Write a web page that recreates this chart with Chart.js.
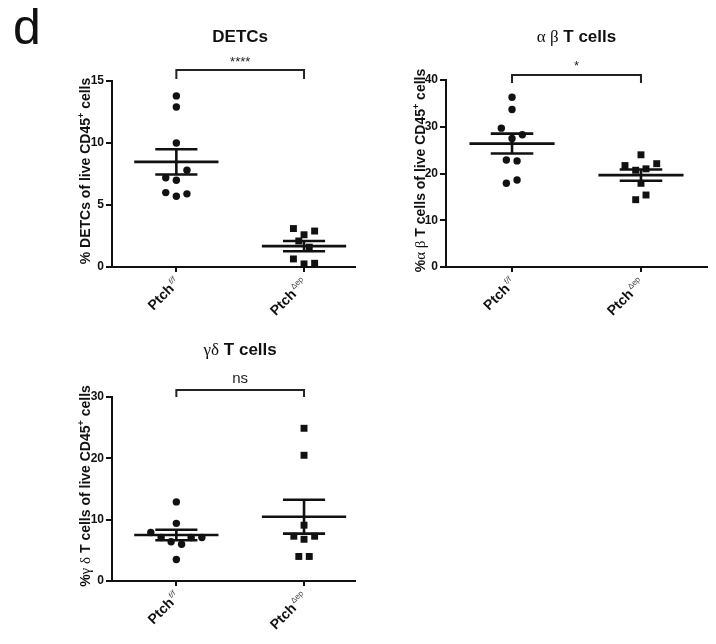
<!DOCTYPE html>
<html>
<head>
<meta charset="utf-8">
<script src="https://cdn.jsdelivr.net/npm/chart.js@4.4.1/dist/chart.umd.min.js"></script>
<style>
  body { margin: 0; background: #fff; }
  #wrap { position: relative; width: 716px; height: 644px; overflow: hidden; background: #fff; }
  canvas { position: absolute; }
  #tag { position: absolute; left: 13px; top: 2px; font: 50px/50px "Liberation Sans", Arial, sans-serif; color: #111; }
</style>
</head>
<body>
<div id="wrap">
  <div id="tag">d</div>
  <canvas id="c1" width="360" height="330" style="left:0;top:0"></canvas>
  <canvas id="c2" width="356" height="330" style="left:360px;top:0"></canvas>
  <canvas id="c3" width="360" height="314" style="left:0;top:330px"></canvas>
</div>
<script>
const SANS = '"Liberation Sans", Arial, sans-serif';
const SERIF = '"Liberation Serif", "Times New Roman", serif';

// groups on the x axis
const catBase = ['Ptch', 'Ptch'];
const catSup = ['f/f', 'Δep'];

// DETCs (% of live CD45+ cells)
const detcFf = [13.8, 12.9, 10.0, 7.8, 7.2, 7.0, 6.0, 5.9, 5.7];
const detcDep = [3.1, 2.9, 2.6, 2.1, 1.6, 0.65, 0.3, 0.25];
const detcTicks = [0, 5, 10, 15];

// alpha beta T cells
const abFf = [36.3, 33.7, 29.7, 28.3, 27.5, 22.9, 22.7, 18.6, 17.9];
const abDep = [24.0, 21.7, 22.1, 20.7, 21.0, 17.9, 15.4, 14.4];
const abTicks = [0, 10, 20, 30, 40];

// gamma delta T cells
const gdFf = [12.9, 9.4, 7.9, 7.1, 7.1, 7.1, 6.4, 6.0, 3.5];
const gdDep = [24.9, 20.5, 9.1, 7.3, 7.3, 6.8, 4.0, 4.0];
const gdTicks = [0, 10, 20, 30];

// horizontal scatter of the dots (in category widths)
const detcFfJit = [0, 0, 0, 0.083, -0.083, 0, -0.083, 0.083, 0];
const detcDepJit = [-0.083, 0.083, 0, -0.041, 0.041, -0.083, 0.083, 0];
const abFfJit = [0, 0, -0.083, 0.08, 0, -0.044, 0.039, 0.039, -0.044];
const abDepJit = [0, -0.124, 0.122, -0.041, 0.039, 0, 0.039, -0.041];
const gdFfJit = [0, 0, -0.2, -0.119, 0.116, 0.2, -0.041, 0.041, 0];
const gdDepJit = [0, 0, 0, -0.08, 0.083, 0, -0.041, 0.041];

Chart.defaults.font.family = SANS;
Chart.defaults.color = '#111';

function drawRuns(ctx, runs, x, y, align) {
    let w = 0;
    runs.forEach(r => { ctx.font = r.font; r.w = ctx.measureText(r.t).width; w += r.w; });
    let cx = align === 'center' ? x - w / 2 : align === 'right' ? x - w : x;
    ctx.textAlign = 'left';
    ctx.textBaseline = 'alphabetic';
    runs.forEach(r => {
        ctx.font = r.font;
        ctx.fillStyle = r.color || '#111';
        ctx.fillText(r.t, cx, y + (r.dy || 0));
        cx += r.w;
    });
}

const deco = {
    id: 'deco',
    afterDraw(chart, args, o) {
        const { ctx, chartArea: a, scales: { x } } = chart;
        const x1 = x.getPixelForValue(1), x2 = x.getPixelForValue(2);
        ctx.save();
        // panel title
        drawRuns(ctx, o.title, (x1 + x2) / 2, o.titleY, 'center');
        // y axis title
        ctx.save();
        ctx.translate(a.left + o.yTitleDx, (a.top + a.bottom) / 2 - 3);
        ctx.rotate(-Math.PI / 2);
        drawRuns(ctx, o.yTitle, 0, 0, 'center');
        ctx.restore();
        // rotated group labels
        catBase.forEach((b, i) => {
            const px = x.getPixelForValue(i + 1);
            ctx.save();
            ctx.translate(px + 4, a.bottom + 17);
            ctx.rotate(-Math.PI / 4);
            drawRuns(ctx, [
                { t: b, font: 'bold 14px ' + SANS },
                { t: ' ', font: '4px ' + SANS },
                { t: catSup[i], font: (i === 0 ? 'italic ' : '') + '8px ' + SANS, dy: -6, color: '#444' }
            ], 0, 0, 'right');
            ctx.restore();
        });
        // significance bracket
        const by = a.top + o.barDy, ey = a.top + o.barEnd;
        ctx.strokeStyle = '#222';
        ctx.lineWidth = 2;
        ctx.beginPath();
        ctx.moveTo(x1, ey); ctx.lineTo(x1, by); ctx.lineTo(x2, by); ctx.lineTo(x2, ey);
        ctx.stroke();
        ctx.font = o.sigFont;
        ctx.fillStyle = '#222';
        ctx.textAlign = 'center';
        ctx.textBaseline = 'alphabetic';
        ctx.fillText(o.sig, (x1 + x2) / 2, a.top + o.sigDy);
        ctx.restore();
    }
};

function dots(vals, jit, cat, style, r) {
    return {
        data: vals.map((v, i) => ({ x: cat + jit[i], y: v })),
        pointStyle: style, pointRadius: r, pointHoverRadius: r,
        backgroundColor: '#111', borderColor: '#111', borderWidth: 0
    };
}

function meanSem(vals, cat) {
    const n = vals.length;
    const m = vals.reduce((s, v) => s + v, 0) / n;
    const sd = Math.sqrt(vals.reduce((s, v) => s + (v - m) ** 2, 0) / (n - 1));
    const se = sd / Math.sqrt(n);
    const seg = (xa, ya, xb, yb) => ({
        showLine: true, data: [{ x: xa, y: ya }, { x: xb, y: yb }],
        borderColor: '#111', borderWidth: 2.6, pointRadius: 0, borderCapStyle: 'butt'
    });
    return [
        seg(cat - 0.33, m, cat + 0.33, m),
        seg(cat - 0.165, m + se, cat + 0.165, m + se),
        seg(cat - 0.165, m - se, cat + 0.165, m - se),
        seg(cat, m - se, cat, m + se)
    ];
}

function makePanel(id, p) {
    const axisLine = { color: '#111', width: 2 };
    const tickGrid = { display: true, drawOnChartArea: false, drawTicks: true, tickLength: 6, color: '#111', lineWidth: 2 };
    new Chart(document.getElementById(id), {
        type: 'scatter',
        data: {
            datasets: [
                dots(p.ff, p.ffJit, 1, 'circle', 3.7),
                dots(p.dep, p.depJit, 2, 'rect', 4.9),
                ...meanSem(p.ff, 1),
                ...meanSem(p.dep, 2)
            ]
        },
        options: {
            responsive: false,
            animation: false,
            events: [],
            layout: { padding: { top: p.top, right: p.right, left: 0, bottom: 0 } },
            plugins: { legend: { display: false }, tooltip: { enabled: false }, deco: p.deco },
            scales: {
                x: {
                    type: 'linear', min: p.xMin, max: p.xMax,
                    border: axisLine,
                    grid: { ...tickGrid, tickLength: 5 },
                    ticks: { callback: () => '', padding: 0 },
                    afterBuildTicks: s => { s.ticks = [{ value: 1 }, { value: 2 }]; },
                    afterFit: s => { s.height = p.xH; }
                },
                y: {
                    min: 0, max: p.ticks[p.ticks.length - 1],
                    border: axisLine,
                    grid: tickGrid,
                    ticks: { font: { size: 12, weight: 'bold' }, color: '#111', padding: 2 },
                    afterBuildTicks: s => { s.ticks = p.ticks.map(v => ({ value: v })); },
                    afterFit: s => { s.width = p.yW; }
                }
            }
        },
        plugins: [deco]
    });
}

const bold14 = 'bold 14px ' + SANS;
const supF = 'bold 9px ' + SANS;

makePanel('c1', {
    ff: detcFf, dep: detcDep, ffJit: detcFfJit, depJit: detcDepJit, ticks: detcTicks,
    top: 81, right: 3, xMin: 0.496, xMax: 2.40, xH: 63, yW: 112,
    deco: {
        title: [{ t: 'DETCs', font: 'bold 17px ' + SANS }], titleY: 42,
        yTitle: [{ t: '% DETCs of live CD45', font: bold14 }, { t: '+', font: supF, dy: -6 }, { t: ' cells', font: bold14 }],
        yTitleDx: -22,
        barDy: -11, barEnd: -2, sig: '****', sigFont: '13px ' + SANS, sigDy: -15
    }
});

makePanel('c2', {
    ff: abFf, dep: abDep, ffJit: abFfJit, depJit: abDepJit, ticks: abTicks,
    top: 80, right: 9, xMin: 0.488, xMax: 2.512, xH: 63, yW: 86,
    deco: {
        title: [{ t: 'α β', font: '17px ' + SERIF }, { t: ' T cells', font: 'bold 17px ' + SANS }], titleY: 42,
        yTitle: [{ t: '%', font: bold14 }, { t: 'α β', font: '15px ' + SERIF }, { t: ' T cells of live CD45', font: bold14 },
                 { t: '+', font: supF, dy: -6 }, { t: ' cells', font: bold14 }],
        yTitleDx: -21,
        barDy: -5, barEnd: 3, sig: '*', sigFont: '13px ' + SANS, sigDy: -10
    }
});

makePanel('c3', {
    ff: gdFf, dep: gdDep, ffJit: gdFfJit, depJit: gdDepJit, ticks: gdTicks,
    top: 67, right: 3, xMin: 0.496, xMax: 2.40, xH: 63, yW: 112,
    deco: {
        title: [{ t: 'γδ', font: '17px ' + SERIF }, { t: ' T cells', font: 'bold 17px ' + SANS }], titleY: 25,
        yTitle: [{ t: '%', font: bold14 }, { t: 'γ δ', font: '15px ' + SERIF }, { t: ' T cells of live CD45', font: bold14 },
                 { t: '+', font: supF, dy: -6 }, { t: ' cells', font: bold14 }],
        yTitleDx: -22,
        barDy: -7, barEnd: 0, sig: 'ns', sigFont: '15px ' + SANS, sigDy: -14
    }
});
</script>
</body>
</html>
